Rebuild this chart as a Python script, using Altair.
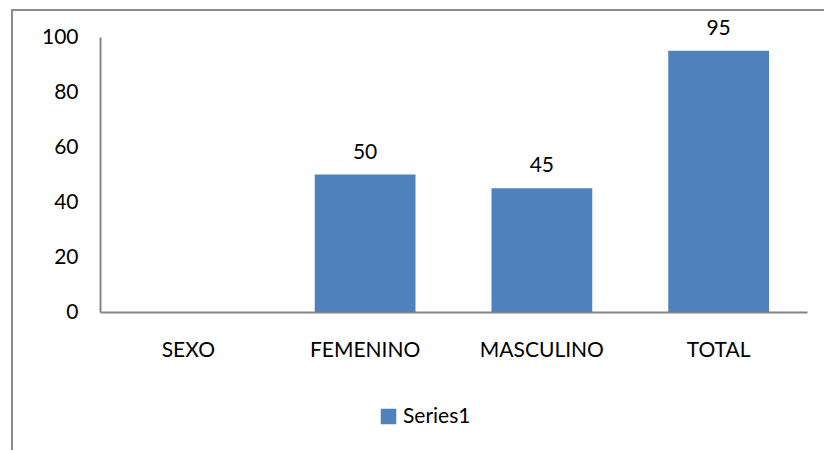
import altair as alt
import pandas as pd

categories = ["SEXO", "FEMENINO", "MASCULINO", "TOTAL"]
values = [None, 50, 45, 95]
series = ["Series1", "Series1", "Series1", "Series1"]

df = pd.DataFrame({"cat": categories, "value": values, "series": series})

FONT = "Lato"
FS = 21
GRAY = "#868686"

x_enc = alt.X("cat:N", sort=categories, title=None,
              scale=alt.Scale(domain=categories, paddingInner=0.43, paddingOuter=0.215),
              axis=alt.Axis(labelAngle=0, labelFontSize=FS, labelFont=FONT, labelColor="#000",
                            labelFontWeight="normal",
                            ticks=False, domainColor=GRAY, domainWidth=2, labelPadding=27))
y_enc = alt.Y("value:Q", title=None,
              scale=alt.Scale(domain=[0, 100]),
              axis=alt.Axis(values=[0, 20, 40, 60, 80, 100], grid=False, ticks=False,
                            labelFontSize=FS, labelFont=FONT, labelColor="#000",
                            domainColor=GRAY, domainWidth=2, labelPadding=22))

base = alt.Chart(df).transform_filter("isValid(datum.value)")

bars = base.mark_bar(clip=False).encode(
    x=x_enc, y=y_enc,
    color=alt.Color("series:N", title=None,
                    scale=alt.Scale(range=["#4F81BD"]),
                    legend=alt.Legend(orient="none", legendX=278, legendY=369,
                                      symbolType="square", symbolSize=240,
                                      symbolStrokeWidth=0, labelFontSize=FS,
                                      labelFont=FONT, labelColor="#000", labelOffset=4)),
)

labels = base.mark_text(dy=-12, baseline="bottom", fontSize=FS, font=FONT, color="#000").encode(
    x=alt.X("cat:N", sort=categories, scale=alt.Scale(domain=categories)),
    y="value:Q", text="value:Q"
)

frame_left = alt.Chart(df).mark_rule(color="#8c8c8c", strokeWidth=2, clip=False).encode(
    x=alt.value(-88), y=alt.value(-28), y2=alt.value(420))
frame_top = alt.Chart(df).mark_rule(color="#8c8c8c", strokeWidth=2, clip=False).encode(
    x=alt.value(-89), x2=alt.value(730), y=alt.value(-27))

chart = alt.layer(bars, labels, frame_left, frame_top).properties(
    width=707, height=275,
    background="white",
    autosize=alt.AutoSizeParams(type="none"),
    padding={"left": 100, "top": 37, "right": 17, "bottom": 138},
).configure_view(stroke=None, strokeWidth=0)

chart.save("out.html", embed_options={"renderer": "svg", "actions": False})
